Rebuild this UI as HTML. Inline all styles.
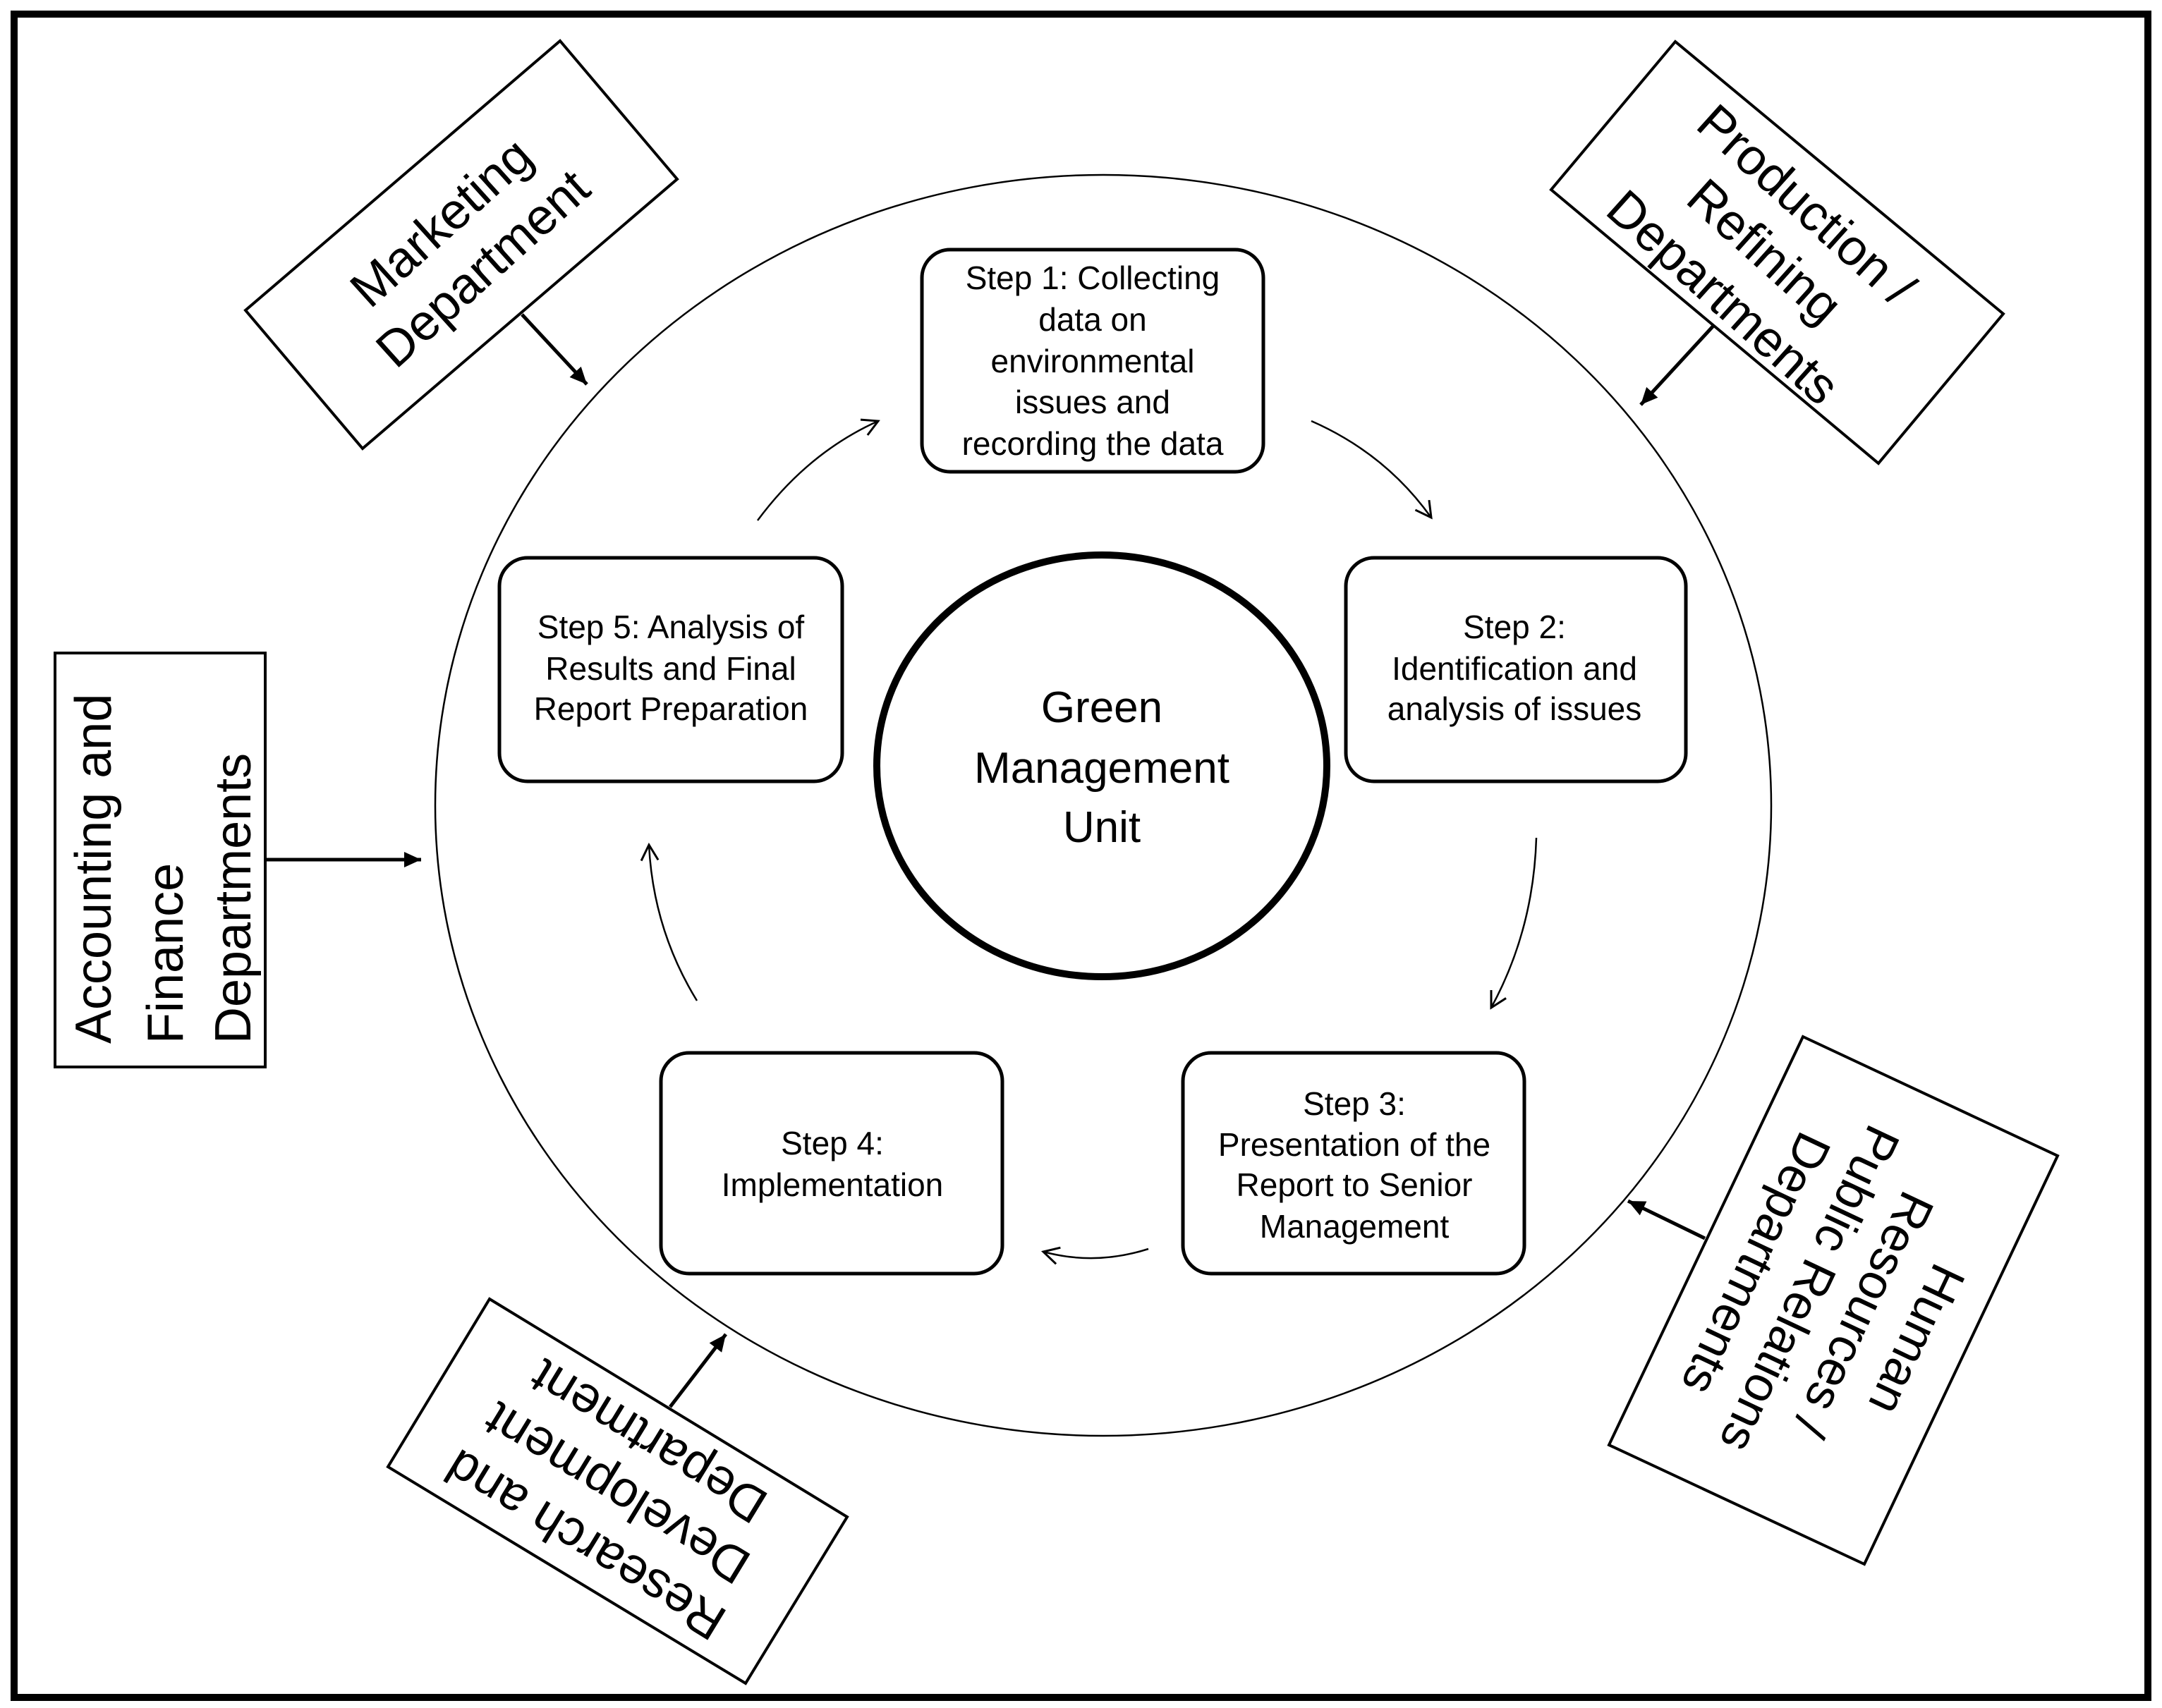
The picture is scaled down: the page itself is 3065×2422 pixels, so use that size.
<!DOCTYPE html>
<html><head><meta charset="utf-8"><style>
html,body{margin:0;padding:0;background:#fff}
svg{display:block}
text{font-family:"Liberation Sans",sans-serif;fill:#000}
</style></head><body>
<svg width="3065" height="2422" viewBox="0 0 3065 2422" xmlns="http://www.w3.org/2000/svg">
<defs>
<marker id="open" markerUnits="userSpaceOnUse" markerWidth="40" markerHeight="40" refX="30" refY="20" orient="auto">
<path d="M8,8 L30,20 L8,32" fill="none" stroke="#000" stroke-width="3"/>
</marker>
<marker id="solid" markerUnits="userSpaceOnUse" markerWidth="40" markerHeight="40" refX="30" refY="20" orient="auto">
<path d="M6,9 L30,20 L6,31 Z" fill="#000"/>
</marker>
</defs>
<rect x="0" y="0" width="3065" height="2422" fill="#fff"/>
<rect x="20" y="20" width="3025" height="2387" fill="none" stroke="#000" stroke-width="10"/>

<ellipse cx="1564" cy="1142" rx="947" ry="894" fill="none" stroke="#000" stroke-width="2.5"/>
<ellipse cx="1562" cy="1086" rx="319" ry="299" fill="none" stroke="#000" stroke-width="10"/>
<g font-size="62" text-anchor="middle">
<text x="1562" y="1024">Green</text>
<text x="1562" y="1110">Management</text>
<text x="1562" y="1194">Unit</text>
</g>

<g fill="#fff" stroke="#000" stroke-width="5">
<rect x="1307" y="354" width="484" height="315" rx="40"/>
<rect x="1908" y="791" width="482" height="317" rx="40"/>
<rect x="708" y="791" width="486" height="317" rx="40"/>
<rect x="1677" y="1493" width="484" height="313" rx="40"/>
<rect x="937" y="1493" width="484" height="313" rx="40"/>
</g>
<g font-size="46" text-anchor="middle">
<text x="1549" y="410">Step 1: Collecting</text>
<text x="1549" y="469">data on</text>
<text x="1549" y="528">environmental</text>
<text x="1549" y="586">issues and</text>
<text x="1549" y="645">recording the data</text>
<text x="2147" y="905">Step 2:</text>
<text x="2147" y="964">Identification and</text>
<text x="2147" y="1021">analysis of issues</text>
<text x="951" y="905">Step 5: Analysis of</text>
<text x="951" y="964">Results and Final</text>
<text x="951" y="1021">Report Preparation</text>
<text x="1920" y="1581">Step 3:</text>
<text x="1920" y="1639">Presentation of the</text>
<text x="1920" y="1696">Report to Senior</text>
<text x="1920" y="1755">Management</text>
<text x="1180" y="1637">Step 4:</text>
<text x="1180" y="1696">Implementation</text>
</g>

<g fill="none" stroke="#000" stroke-width="2.5" marker-end="url(#open)">
<path d="M1859,597 Q1964,643 2029,734"/>
<path d="M2178,1188 Q2174,1319 2114,1429"/>
<path d="M1628,1771 Q1553,1795 1479,1775"/>
<path d="M988,1419 Q926,1318 920,1198"/>
<path d="M1074,738 Q1145,642 1245,597"/>
</g>

<!-- Marketing -->
<polygon points="794,58 960,254 514,636 348,440" fill="#fff" stroke="#000" stroke-width="4"/>
<g transform="translate(654,347) rotate(-42)" font-size="72" text-anchor="middle">
<text x="0" y="-18">Marketing</text>
<text x="0" y="70">Department</text>
</g>
<line x1="740" y1="446" x2="832" y2="545" stroke="#000" stroke-width="5" marker-end="url(#solid)"/>

<!-- Production -->
<polygon points="2375,59 2840,445 2663,657 2199,269" fill="#fff" stroke="#000" stroke-width="4"/>
<g transform="translate(2500,358) rotate(42)" font-size="72" text-anchor="middle">
<text x="0" y="-66">Production /</text>
<text x="0" y="22">Refining</text>
<text x="0" y="110">Departments</text>
</g>
<line x1="2429" y1="462" x2="2326" y2="574" stroke="#000" stroke-width="5" marker-end="url(#solid)"/>

<!-- Accounting -->
<rect x="78" y="926" width="298" height="587" fill="#fff" stroke="#000" stroke-width="4"/>
<g transform="translate(227,1480) rotate(-90)" font-size="72" text-anchor="start">
<text x="0" y="-70">Accounting  and</text>
<text x="0" y="32">Finance</text>
<text x="0" y="128">Departments</text>
</g>
<line x1="376" y1="1219" x2="597" y2="1219" stroke="#000" stroke-width="5" marker-end="url(#solid)"/>

<!-- HR -->
<polygon points="2556,1470 2917,1639 2643,2218 2281,2049" fill="#fff" stroke="#000" stroke-width="4"/>
<g transform="translate(2600,1844) rotate(115.3)" font-size="70" text-anchor="middle">
<text x="0" y="-106">Human</text>
<text x="0" y="-22">Resources /</text>
<text x="0" y="62">Public Relations</text>
<text x="0" y="146">Departments</text>
</g>
<line x1="2417" y1="1756" x2="2308" y2="1703" stroke="#000" stroke-width="5" marker-end="url(#solid)"/>

<!-- R&D -->
<polygon points="694,1842 1201,2151 1057,2387 550,2080" fill="#fff" stroke="#000" stroke-width="4"/>
<g transform="translate(876,2115) rotate(211.4)" font-size="72" text-anchor="middle">
<text x="0" y="-64">Research and</text>
<text x="0" y="22">Development</text>
<text x="0" y="108">Department</text>
</g>
<line x1="950" y1="1995" x2="1029" y2="1892" stroke="#000" stroke-width="5" marker-end="url(#solid)"/>
</svg>
</body></html>
